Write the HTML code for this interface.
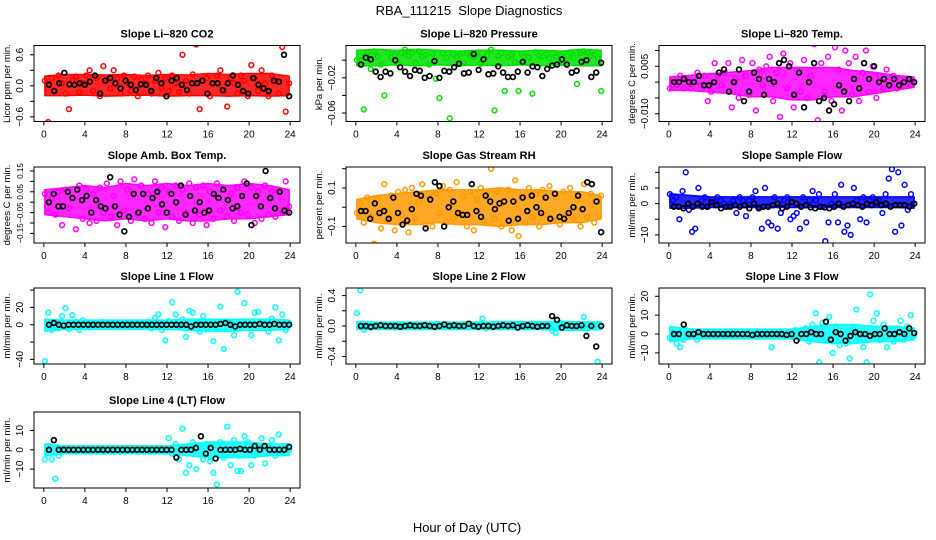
<!DOCTYPE html>
<html><head><meta charset="utf-8">
<style>
html,body{margin:0;padding:0;background:#fff;}
svg{display:block;font-family:"Liberation Sans",Arial,sans-serif;}
</style></head>
<body>
<svg id="chart" width="936" height="540" viewBox="0 0 936 540">
<text x="469" y="15" text-anchor="middle" font-size="13">RBA_111215&#160; Slope Diagnostics</text>
<text x="467" y="532" text-anchor="middle" font-size="13">Hour of Day (UTC)</text>
</svg>
<script>
// ---- data ----
const xTicks = [0,4,8,12,16,20,24];
const p1c = [0.1,-0.7,0.15,-0.1,0.2,0.05,-0.15,-0.45,0.1,0.18,-0.12,0.05,0.2,0.3,-0.1,0.15,-0.2,0.38,0.1,-0.05,0.3,0.15,-0.15,0.2,0.05,-0.1,0.18,-0.2,0.12,0.05,0.2,-0.15,0.1,0.25,-0.05,0.15,-0.1,0.2,0.05,-0.12,0.6,0.1,-0.15,0.22,0.8,-0.45,0.1,0.15,-0.2,0.05,0.2,0.3,-0.1,-0.4,0.15,0.05,-0.15,0.2,0.1,-0.2,0.4,0.15,-0.1,0.3,0.05,-0.2,0.2,0.1,-0.15,0.75,-0.5,0.05];
const p1k = [0.02,-0.1,0.05,0.25,0.03,0.02,0.05,0.02,0.08,0.2,-0.15,0.1,0.15,0.05,-0.05,0.1,0.02,-0.08,0.03,0.02,-0.1,0.15,0.05,-0.2,0.1,0.15,0.02,-0.08,0.05,0.05,0.1,-0.15,0.05,0.05,-0.08,0.05,0.2,0.02,-0.1,-0.15,0.15,0.02,-0.05,-0.1,0.1,0.08,0.6,-0.2];
const p1hi = [0.15,0.18,0.18,0.17,0.18,0.16,0.18,0.17,0.2,0.18,0.2,0.2,0.15];
const p1lo = [-0.15,-0.15,-0.14,-0.16,-0.15,-0.14,-0.16,-0.15,-0.15,-0.16,-0.15,-0.16,-0.15];

const p2c = [0,0.005,-0.056,0.008,-0.01,0.01,0.004,-0.005,-0.04,0.009,0.003,0.006,-0.004,0.008,0.012,0.005,0.008,-0.003,0.01,0.004,0.006,-0.005,0.007,-0.021,-0.043,0.008,0.003,-0.066,0.007,0.004,0.006,-0.003,0.008,0.005,0.003,0.007,-0.004,0.002,0.006,0.012,-0.057,0.005,0.008,-0.035,0.004,0.006,-0.002,-0.035,0.007,0.004,0.003,-0.038,0.009,0.005,0.004,0.007,0.002,0.008,0.004,0.006,-0.003,0.005,0.009,0.003,-0.027,0.008,0.01,0.009,0.005,0.006,0.003,-0.035];
const p2k = [-0.005,0.003,0.001,-0.013,-0.019,-0.013,-0.015,0,-0.008,-0.013,-0.018,-0.011,-0.012,-0.02,-0.018,-0.001,-0.02,-0.012,-0.013,-0.008,-0.004,-0.015,-0.014,0.007,-0.011,0.001,-0.016,-0.015,-0.007,-0.014,-0.019,-0.019,-0.013,-0.002,-0.014,-0.007,-0.008,-0.018,-0.01,-0.006,-0.005,0.001,-0.005,-0.014,-0.012,-0.002,0.0,-0.019,-0.014,-0.003];
const p2hi = [0.009,0.01,0.009,0.01,0.009,0.008,0.009,0.009,0.008,0.009,0.008,0.01,0.009];
const p2lo = [-0.004,-0.004,-0.003,-0.004,-0.003,-0.004,-0.003,-0.004,-0.003,-0.004,-0.003,-0.004,-0.004];

const p3c = [-0.002,0.001,-0.001,0.002,-0.002,0.001,-0.002,0.0,0.003,-0.001,0.002,-0.006,-0.003,0.006,0.002,-0.001,0.003,0.006,-0.008,0.001,-0.005,0.007,0.002,-0.004,0.006,-0.009,0.004,-0.001,0.005,0.008,-0.006,0.003,-0.011,0.009,-0.002,0.006,-0.008,0.004,-0.003,0.007,-0.005,0.002,0.012,-0.012,0.006,-0.003,0.008,-0.006,0.011,0.004,-0.009,0.01,0.006,-0.004,0.008,-0.006,0.003,0.01,-0.003,0.005,-0.005,0.002,-0.002,0.004,-0.001,0.002,-0.002,0.001,0.0,0.001,-0.001,0.0];
const p3k = [0.0,0.0,0.001,0.0,0.0,0.002,-0.001,-0.001,0.0,0.003,0.004,-0.003,0.0,0.004,-0.006,-0.003,0.003,0.001,-0.004,0.001,0.0,0.006,0.007,0.005,-0.004,0.003,-0.008,0.0,0.006,-0.006,-0.005,-0.009,-0.007,-0.001,-0.003,-0.006,0.001,-0.002,0.006,0.001,0.005,0.0,0.001,-0.001,0.001,-0.001,0.0,0.001,0.0];
const p3hi = [0.001,0.0015,0.002,0.0025,0.003,0.004,0.004,0.004,0.004,0.003,0.0025,0.0015,0.001];
const p3lo = [-0.002,-0.002,-0.0025,-0.003,-0.004,-0.004,-0.005,-0.005,-0.004,-0.004,-0.003,-0.002,-0.001];

const p4c = [0.04,-0.05,0.02,-0.06,0.05,-0.11,0.06,-0.03,0.02,-0.13,0.08,-0.08,0.06,-0.1,0.04,-0.09,0.07,-0.05,0.09,-0.07,0.03,-0.11,0.1,-0.04,0.06,-0.09,0.11,-0.06,0.08,-0.08,0.04,-0.1,0.1,-0.05,0.07,-0.12,0.05,-0.07,0.08,-0.09,0.06,-0.05,0.09,-0.1,0.07,-0.06,0.08,-0.11,0.05,-0.08,0.09,-0.04,0.06,-0.07,0.04,-0.09,0.07,-0.05,0.1,-0.06,0.07,-0.1,0.05,-0.08,0.08,-0.06,0.05,-0.07,0.06,-0.05,0.1,-0.02];
const p4k = [0,0.04,-0.02,-0.02,0.05,0.02,0.06,0.01,0.03,-0.05,0.01,-0.02,-0.03,0.12,-0.02,-0.06,-0.14,-0.07,0.04,-0.05,0.04,-0.03,0.02,0.05,-0.01,-0.05,0.04,0.0,0.08,-0.06,0.03,-0.04,0.0,-0.05,-0.04,0.04,0.02,0.06,0.01,-0.03,-0.02,0.03,0.09,-0.11,0.03,-0.02,0.15,0.02,-0.03,0.05,-0.04,-0.05];
const p4hi = [0.05,0.06,0.07,0.06,0.08,0.07,0.08,0.07,0.08,0.07,0.08,0.07,0.05];
const p4lo = [-0.05,-0.06,-0.07,-0.08,-0.07,-0.08,-0.07,-0.08,-0.08,-0.07,-0.07,-0.06,-0.05];

const p5c = [-0.03,0.02,-0.08,0.05,-0.05,-0.19,0.04,-0.11,0.12,-0.07,0.06,-0.12,0.08,-0.04,0.09,-0.13,0.1,-0.06,0.03,0.12,-0.09,0.05,-0.1,0.07,-0.03,0.11,-0.08,0.09,-0.06,0.13,-0.04,0.06,-0.1,0.08,-0.12,0.04,0.1,-0.07,0.05,0.2,-0.06,0.08,-0.1,0.03,0.09,-0.12,0.14,-0.15,0.06,-0.08,0.1,-0.05,0.07,-0.1,0.09,-0.04,0.11,-0.07,0.05,-0.09,0.08,-0.03,0.1,-0.06,0.04,-0.1,0.12,-0.05,0.07,-0.08,0.03,0.06];
const p5k = [-0.02,-0.02,-0.06,0.02,-0.03,-0.02,-0.06,0.05,-0.03,-0.09,-0.07,-0.01,0.07,0.06,-0.11,0.04,0.13,0.11,-0.1,0.0,0.03,-0.03,-0.04,-0.04,0.12,-0.02,-0.05,0.06,0.03,-0.01,0.02,0.03,-0.07,0.03,-0.06,0.05,-0.02,0.06,0.0,-0.03,0.05,-0.06,0.07,-0.05,-0.06,-0.03,0.0,0.06,-0.01,0.13,0.12,0.03,-0.13];
const p5hi = [0.03,0.05,0.06,0.07,0.08,0.08,0.08,0.09,0.08,0.08,0.07,0.07,0.05];
const p5lo = [-0.05,-0.07,-0.08,-0.08,-0.07,-0.08,-0.08,-0.09,-0.08,-0.08,-0.07,-0.07,-0.05];

const p6c = [3,1,2,-5,4,10,-2,-9,-8,5,1,2,-1,1,0.5,2,1,0,-1,0,1,-3,2,1,-4,1,2,4,-1,-8,5,-6,-7,2,-8,-3,1,2,-5,-4,-3,-8,2,-6,1,4,1,3,-1,-12,-6,0,3,-6,6,-9,-7,-10,5,1,-5,2,-6,1,2,0,1,-3,3,8,11,-9,10,-7,6,-2,3,0];
const p6k = [-1,-1,-1.5,0,-1,0,-1,-1,0.5,-0.5,-1.5,-1,-1,-0.5,-1,-0.5,-1.5,0,-1.5,-1,-1,-0.5,0,-1.5,-1,0.5,0,-1,-0.5,-1.2,-1.5,-1,-1.2,-1.5,-1,0,-1,-0.5,0,-0.5,-1,0,-0.5,0.5,-0.5,0,-1,-0.5,-0.5,-0.5,-1,0];
const p6hi = [2.5,2,1.5,1.5,1.5,1.5,1.5,1.5,1.5,1.5,1.5,1.5,1.5];
const p6lo = [-0.8,-0.8,-0.6,-0.6,-0.6,-0.6,-0.6,-0.6,-0.6,-0.6,-0.6,-0.6,-0.8];

const p7c = [-42,14,-6,3,-4,10,19,-5,11,3,-6,5,2,-3,1,2,-1,3,-2,1,0,2,-1,1,0,-2,1,2,-1,0,3,-4,8,12,-6,-18,4,26,12,-2,6,-14,16,14,3,-8,10,-5,4,-19,-2,21,-28,3,2,-12,38,-3,25,4,-12,14,15,-3,1,-8,7,20,-18,12,-6,2];
const p7k = [0,2,0,-1,0,0,0,0,0,0,0,0,0,0,0,0,0,0,0,0,0,0,0,0,0,0,0,0,0,-2,0,0,0,0,0,1,2,0,-2,0,0,0,0,1,0,0,1,0,0,0];
const p7hi = [4,3,3,3,3,3,3,4,4,4,4,4,3];
const p7lo = [-5,-3,-3,-3,-3,-3,-3,-4,-5,-5,-4,-4,-3];

const p8c = [0.17,0.47,-0.05,0.02,-0.02,0.01,0,0.02,-0.01,0.01,0.02,-0.02,0,0.01,-0.01,0.02,0,0.01,-0.02,0.01,0,0.02,-0.01,0.03,0,-0.01,0.02,0.01,-0.01,0,0.02,-0.01,0.03,0,0.01,0.02,0.1,-0.03,0.01,0,0.02,-0.02,0.01,0.03,0,-0.01,0.02,0.03,-0.02,0.01,0.02,0,0.03,-0.01,0.02,0.01,-0.06,-0.09,0.04,0.02,0,-0.03,0.01,0.02,0,0.12,-0.03,0.02,0.01,-0.47,0];
const p8k = [0,0,-0.01,0,0.01,0,0,0,-0.01,0,0.01,0,0,0.01,0,-0.01,0,0.02,0,0.01,0,0,0.03,0,-0.01,0,0,-0.01,0,0.01,0,0.01,-0.02,0,0.01,0,-0.01,0,0,0.13,0.08,-0.02,0.01,0,0,0.01,-0.13,0,-0.27,0];
const p8hi = [0.03,0.025,0.025,0.025,0.025,0.025,0.025,0.03,0.03,0.03,0.035,0.03,0.03];
const p8lo = [-0.02,-0.02,-0.02,-0.02,-0.02,-0.02,-0.02,-0.02,-0.02,-0.02,-0.03,-0.03,-0.02];

const p9c = [-2,1,-5,-7,-3,2,-1,1,-3,1,0,1,0,1,-1,0,1,0,1,-1,0,1,0,-1,1,0,1,-1,0,1,-7,0,1,-1,0,1,-1,2,-2,0,3,-4,5,11,-15,6,-3,9,-10,4,-6,2,-5,-13,3,13,-2,-7,-15,21,7,11,-3,5,-7,2,-4,3,7,-3,4,10,-1];
const p9k = [0,0,5,0,0,1,0,0,0,0,0,0,0,0,0,0,-0.5,0,0,0,0,0,0,-0.5,0,-3.5,0,0,1,0,0,6.5,-3,1,0,-3.5,-1,1,0,0,-1,0,0,3,0,0,1,0,3,0.5];
const p9hi = [3,1.5,1.5,1.5,1.5,1.5,1.5,3,4,4,3,3,2];
const p9lo = [-3,-1.5,-1.5,-1.5,-1.5,-1.5,-1.5,-3,-4,-4,-3,-3,-2];

const p10c = [-5,2,-5,-15,-3,1,0,1,0,-1,0,1,0,-1,0,1,0,-1,0,1,0,0,-1,1,0,1,0,-1,0,1,0,-1,0,1,0,-1,6,-2,3,-5,11,-12,-8,4,-10,2,-5,3,-6,-12,-18,4,-4,12,-8,5,-11,-11,7,4,-8,-3,1,6,-7,2,5,-3,8,-1,2,0];
const p10k = [0,5,0,0,0,0,0,0,0,0,0,0,0,0,0,0,0,0,0,0,0,0,0,0,0,0,-4,0,0,0,1,7,-2,1,-4.5,0,0,0,0,0.5,0,0,2,0,2,0,0,0,0,1.5];
const p10hi = [2,1,1,1,1,1,1,2,3,3,3,2,2];
const p10lo = [-2,-1,-1,-1,-1,-1,-1,-2,-3,-3,-3,-2,-2];

const titles = ["Slope Li-820 CO2","Slope Li-820 Pressure","Slope Li-820 Temp.","Slope Amb. Box Temp.","Slope Gas Stream RH","Slope Sample Flow","Slope Line 1 Flow","Slope Line 2 Flow","Slope Line 3 Flow","Slope Line 4 (LT) Flow"];
const yTitles = ["Licor ppm per min.","kPa per min.","degrees C per min.","degrees C per min.","percent per min.","ml/min per min.","ml/min per min.","ml/min per min.","ml/min per min.","ml/min per min."];
const yDomains = [[-0.69,0.78],[-0.0696,0.0167],[-0.01246,0.01158],[-0.196,0.169],[-0.186,0.209],[-12.6,11.7],[-45.3,42.4],[-0.5,0.5],[-15.9,24.4],[-19.8,19.6]];
const yTickVals = [[-0.6,-0.3,0,0.3,0.6],[-0.06,-0.04,-0.02,0],[-0.01,-0.005,0,0.005,0.01],[-0.15,-0.1,-0.05,0,0.05,0.1,0.15],[-0.1,0,0.1,0.2],[-10,-5,0,5,10],[-40,-20,0,20,40],[-0.4,-0.2,0,0.2,0.4],[-10,0,10,20],[-10,0,10]];
const yTickLabels = [["-0.6","","0.0","","0.6"],["-0.06","","-0.02",""],["-0.010","","","0.005",""],["-0.15","","-0.05","","0.05","","0.15"],["-0.1","","0.1",""],["-10","","0","5",""],["-40","","0","20",""],["-0.4","","0.0","","0.4"],["-10","0","10","20"],["-10","0","10"]];
const colorVals = [p1c,p2c,p3c,p4c,p5c,p6c,p7c,p8c,p9c,p10c];
const blackVals = [p1k,p2k,p3k,p4k,p5k,p6k,p7k,p8k,p9k,p10k];
const bandHi = [p1hi,p2hi,p3hi,p4hi,p5hi,p6hi,p7hi,p8hi,p9hi,p10hi];
const bandLo = [p1lo,p2lo,p3lo,p4lo,p5lo,p6lo,p7lo,p8lo,p9lo,p10lo];
const colors = ["#ff0000","#00e000","#ff00ff","#ff00ff","#ff9900","#0000ff","#00ffff","#00ffff","#00ffff","#00ffff"];

// ---- layout ----
const NS = "http://www.w3.org/2000/svg";
const svg = document.getElementById("chart");
const colLeft = [34,346,659];
const rowTop = [45.5,167,288,412];
const PW = 266, PH = 76;
function mk(tag, attrs, parent){
  const e = document.createElementNS(NS, tag);
  for (const k in attrs) e.setAttribute(k, attrs[k]);
  (parent||svg).appendChild(e);
  return e;
}
function slug(s){return s.toLowerCase().replace(/[^a-z0-9]+/g,'-').replace(/^-|-$/g,'');}

titles.forEach((title, p) => {
  const L = colLeft[p%3], T = rowTop[Math.floor(p/3)];
  const xs = h => L + PW*(h + 0.96)/25.92;
  const [y0,y1] = yDomains[p];
  const ys = v => T + PH*(y1 - v)/(y1 - y0);
  const g = mk("g", {});
  
  
  const clipId = "clip" + p;
  const cp = mk("clipPath", {id: clipId}, g);
  mk("rect", {x: L, y: T, width: PW, height: PH}, cp);
  const marks = mk("g", {"clip-path": "url(#" + clipId + ")"}, g);
  
  
  const hi = bandHi[p], lo = bandLo[p];
  let pts = [];
  hi.forEach((v,i) => { const h = i*24/(hi.length-1); pts.push(xs(Math.max(0.1,Math.min(23.9,h))) + "," + (ys(v)-2)); });
  for (let i = lo.length-1; i >= 0; i--) { const h = i*24/(lo.length-1); pts.push(xs(Math.max(0.1,Math.min(23.9,h))) + "," + (ys(lo[i])+2)); }
  const band = mk("polygon", {points: pts.join(" "), fill: colors[p], "fill-opacity": 0.85, stroke: colors[p], "stroke-width": 1.5, "stroke-linejoin": "round"}, marks);
  
  
  const cv = colorVals[p];
  cv.forEach((v,i) => {
    const h = 0.1 + i*23.8/(cv.length-1);
    const c = mk("circle", {cx: xs(h), cy: ys(v), r: 2.4, fill: "none", stroke: colors[p], "stroke-width": 1.5}, marks);
    
    
  });
  const kv = blackVals[p];
  kv.forEach((v,i) => {
    const h = 0.5 + i*23.4/(kv.length-1);
    const c = mk("circle", {cx: xs(h), cy: ys(v), r: 2.4, fill: "none", stroke: "#000", "stroke-width": 1.7}, marks);
    
    
  });
  const box = mk("rect", {x: L, y: T, width: PW, height: PH, fill: "none", stroke: "#000", "stroke-width": 1}, g);
  
  
  xTicks.forEach(t => {
    mk("line", {x1: xs(t), x2: xs(t), y1: T+PH, y2: T+PH+4, stroke: "#000"}, g);
    const tx = mk("text", {x: xs(t), y: T+PH+16, "text-anchor": "middle", "font-size": 10}, g);
    tx.textContent = t;
    
    
  });
  const fs = (p === 3) ? 8 : 10;
  yTickVals[p].forEach((t,i) => {
    mk("line", {x1: L, x2: L-4, y1: ys(t), y2: ys(t), stroke: "#000"}, g);
    const lab = yTickLabels[p][i];
    if (lab) {
      const tx = mk("text", {x: L-11, y: ys(t), "text-anchor": "middle", "font-size": fs, transform: "rotate(-90 " + (L-11) + " " + ys(t) + ")"}, g);
      tx.textContent = lab.replace("-", "\u2212");
      
      
    }
  });
  const tt = mk("text", {x: L + PW/2, y: T-8, "text-anchor": "middle", "font-size": 11, "font-weight": "bold"}, g);
  tt.textContent = title.replace("-", "\u2013");
  
  
  const yt = mk("text", {x: L-24, y: T+PH/2, "text-anchor": "middle", "font-size": 9.5, transform: "rotate(-90 " + (L-24) + " " + (T+PH/2) + ")"}, g);
  yt.textContent = yTitles[p];
  
  
});
</script>
</body></html>
